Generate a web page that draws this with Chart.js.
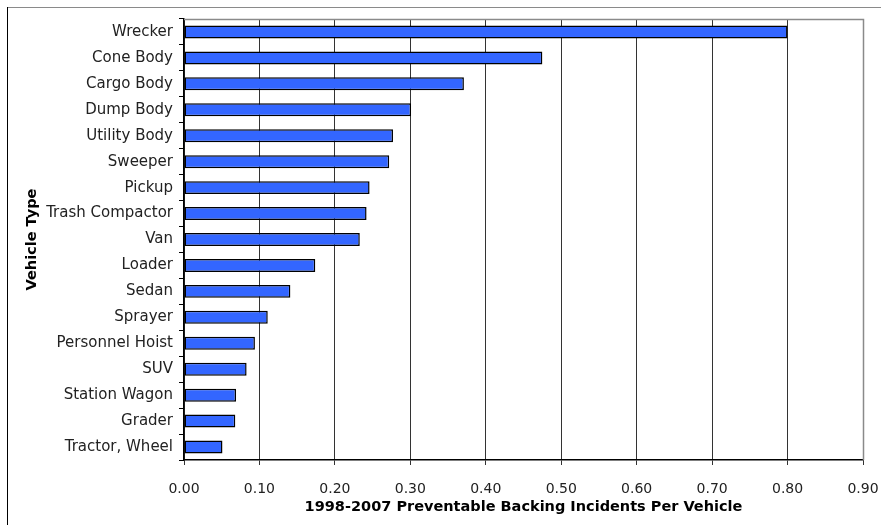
<!DOCTYPE html>
<html>
<head>
<meta charset="utf-8">
<script src="https://cdn.jsdelivr.net/npm/chart.js@4/dist/chart.umd.min.js"></script>
<style>
    html, body { margin: 0; padding: 0; background: #fff; }
    #wrap { position: relative; width: 881px; height: 525px; }
</style>
</head>
<body>
<div id="wrap"><canvas id="backingChart" width="881" height="525"></canvas></div>
<script>
// Types de véhicules, du plus au moins exposé
const vehicleTypes = ['Wrecker', 'Cone Body', 'Cargo Body', 'Dump Body', 'Utility Body', 'Sweeper',
    'Pickup', 'Trash Compactor', 'Van', 'Loader', 'Sedan', 'Sprayer', 'Personnel Hoist', 'SUV',
    'Station Wagon', 'Grader', 'Tractor, Wheel'];

const incidentsPerVehicle = [0.800, 0.475, 0.371, 0.301, 0.277, 0.272, 0.246, 0.242, 0.233,
    0.174, 0.141, 0.111, 0.094, 0.083, 0.069, 0.068, 0.051];

const xTicks = [0, 0.1, 0.2, 0.3, 0.4, 0.5, 0.6, 0.7, 0.8, 0.9];

const FONT = 'DejaVu Sans, Verdana, sans-serif';

// Cadre extérieur + bordure haut/droite de la zone de tracé
const framePlugin = {
    id: 'frame',
    beforeDraw(chart) {
        const ctx = chart.ctx;
        ctx.save();
        ctx.lineWidth = 1;
        ctx.strokeStyle = '#8a8a8a';
        ctx.beginPath();
        ctx.moveTo(7, 7.5);
        ctx.lineTo(881, 7.5);
        ctx.stroke();
        ctx.strokeStyle = '#000';
        ctx.beginPath();
        ctx.moveTo(7.5, 7);
        ctx.lineTo(7.5, 525);
        ctx.stroke();
        ctx.restore();
    },
    afterDraw(chart) {
        const { left, top, right, bottom } = chart.chartArea;
        const ctx = chart.ctx;
        ctx.save();
        ctx.strokeStyle = '#8a8a8a';
        ctx.lineWidth = 1.5;
        ctx.beginPath();
        ctx.moveTo(left, top + 0.5);
        ctx.lineTo(right + 0.5, top + 0.5);
        ctx.lineTo(right + 0.5, bottom);
        ctx.stroke();
        ctx.restore();
    }
};

new Chart(document.getElementById('backingChart'), {
    type: 'bar',
    data: {
        labels: vehicleTypes,
        datasets: [{
            data: incidentsPerVehicle,
            backgroundColor: '#3366ff',
            borderColor: '#000',
            borderWidth: 1.5,
            borderSkipped: false,
            barPercentage: 0.5,
            categoryPercentage: 1
        }]
    },
    options: {
        indexAxis: 'y',
        responsive: false,
        animation: false,
        layout: { padding: { top: 19, right: 18, bottom: 0, left: 0 } },
        plugins: {
            legend: { display: false },
            tooltip: { enabled: false }
        },
        scales: {
            x: {
                min: 0,
                max: 0.9,
                afterBuildTicks(scale) {
                    scale.ticks = xTicks.map(v => ({ value: v }));
                },
                afterFit(scale) {
                    scale.height = 65;
                    scale.paddingLeft = 0;
                    scale.paddingRight = 0;
                },
                grid: {
                    color: '#333',
                    lineWidth: 1,
                    tickLength: 5
                },
                border: { color: '#000', width: 1.5 },
                ticks: {
                    color: '#222',
                    font: { family: FONT, size: 14 },
                    padding: 16,
                    callback: v => Number(v).toFixed(2)
                },
                title: {
                    display: true,
                    text: '1998-2007 Preventable Backing Incidents Per Vehicle',
                    color: '#000',
                    font: { family: FONT, size: 14.5, weight: 'bold' },
                    padding: { top: 0, bottom: 9 }
                }
            },
            y: {
                afterFit(scale) { scale.width = 184; },
                grid: {
                    drawOnChartArea: false,
                    color: '#000',
                    tickLength: 5
                },
                border: { color: '#000', width: 1.5 },
                ticks: {
                    color: '#222',
                    font: { family: FONT, size: 15 },
                    padding: 6
                },
                title: {
                    display: true,
                    text: 'Vehicle Type',
                    color: '#000',
                    font: { family: FONT, size: 14.5, weight: 'bold' },
                    padding: { top: 24, bottom: 0 }
                }
            }
        }
    },
    plugins: [framePlugin]
});
</script>
</body>
</html>
